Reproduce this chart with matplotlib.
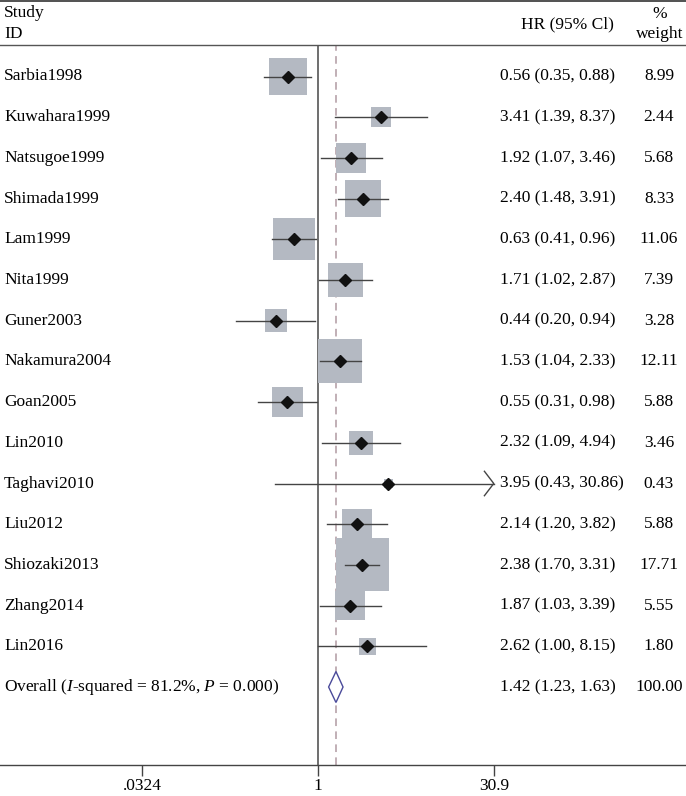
import numpy as np
import matplotlib.pyplot as plt
from matplotlib.patches import Rectangle, Polygon

plt.rcParams['font.family'] = ['Liberation Serif', 'DejaVu Serif']
plt.rcParams['mathtext.fontset'] = 'custom'
plt.rcParams['mathtext.rm'] = 'Liberation Serif'
plt.rcParams['mathtext.it'] = 'Liberation Serif:italic'

# Study data
studies = ["Sarbia1998", "Kuwahara1999", "Natsugoe1999", "Shimada1999", "Lam1999",
           "Nita1999", "Guner2003", "Nakamura2004", "Goan2005", "Lin2010",
           "Taghavi2010", "Liu2012", "Shiozaki2013", "Zhang2014", "Lin2016"]
hr = [0.56, 3.41, 1.92, 2.40, 0.63, 1.71, 0.44, 1.53, 0.55, 2.32, 3.95, 2.14, 2.38, 1.87, 2.62]
lower = [0.35, 1.39, 1.07, 1.48, 0.41, 1.02, 0.20, 1.04, 0.31, 1.09, 0.43, 1.20, 1.70, 1.03, 1.00]
upper = [0.88, 8.37, 3.46, 3.91, 0.96, 2.87, 0.94, 2.33, 0.98, 4.94, 30.86, 3.82, 3.31, 3.39, 8.15]
weight = [8.99, 2.44, 5.68, 8.33, 11.06, 7.39, 3.28, 12.11, 5.88, 3.46, 0.43, 5.88, 17.71, 5.55, 1.80]

overall_hr = 1.42
overall_lo = 1.23
overall_hi = 1.63
overall_label = "Overall ($\\it{I}$-squared = 81.2%, $\\it{P}$ = 0.000)"

xticks = [0.0324, 1, 30.9]
xtick_labels = [".0324", "1", "30.9"]

W, H = 686, 796
fig = plt.figure(figsize=(W / 100, H / 100), dpi=100)

# pixel helpers
row_px0, row_step = 76.5, 40.7
px_per_dec = 118.0
x1_px = 318.0
top_px, bot_px = 45.0, 765.0

ax = fig.add_axes([0, (H - bot_px) / H, 1, (bot_px - top_px) / H])
ax.set_xscale('log')
ax.set_xlim(10 ** (-x1_px / px_per_dec), 10 ** ((W - x1_px) / px_per_dec))
ax.set_ylim((bot_px - row_px0) / row_step, (top_px - row_px0) / row_step)

fs = 12.5

for s in ['left', 'right']:
    ax.spines[s].set_visible(False)
ax.spines['top'].set_color('#555555')
ax.spines['bottom'].set_color('#444444')
ax.spines['top'].set_linewidth(1.0)
ax.spines['bottom'].set_linewidth(1.0)
ax.set_yticks([])
ax.set_xticks(xticks)
ax.set_xticklabels(xtick_labels, fontsize=fs)
ax.xaxis.set_minor_locator(plt.NullLocator())
ax.tick_params(axis='x', direction='out', length=8, width=1, color='#444444', pad=1)

ymin, ymax = ax.get_ylim()
ax.plot([1, 1], [ymin, ymax], color='#555555', lw=1.2, zorder=1)
ax.plot([overall_hr, overall_hr], [ymin, ymax], color='#b09aa2', lw=1.1,
        ls=(0, (5, 3.5)), zorder=1)

xmax_ci = xticks[-1]
box_k = 12.6  # px per sqrt(weight)
for i in range(len(studies)):
    side = box_k * np.sqrt(weight[i])
    half_dec = side / 2 / px_per_dec
    half_row = side / 2 / row_step
    ax.add_patch(Rectangle((hr[i] / 10 ** half_dec, i - half_row),
                           hr[i] * 10 ** half_dec - hr[i] / 10 ** half_dec,
                           2 * half_row, facecolor='#b4b9c2', edgecolor='none', zorder=2))
    hi = min(upper[i], xmax_ci)
    ax.plot([lower[i], hi], [i, i], color='#444444', lw=1.0, zorder=3)
    if upper[i] > 30:
        ax.plot([hi / 1.2, hi, hi / 1.2], [i - 0.3, i, i + 0.3], color='#444444', lw=1.0, zorder=3)
    ax.plot(hr[i], i, marker='D', color='#111111', ms=6.5, zorder=4)

yo = len(studies)
ax.add_patch(Polygon([[overall_lo, yo], [overall_hr, yo - 0.38], [overall_hi, yo],
                      [overall_hr, yo + 0.38]], closed=True, facecolor='white',
                     edgecolor='#4a4a9a', lw=1.0, zorder=3))

# text columns
tr = ax.get_yaxis_transform()
for i in range(len(studies)):
    ax.text(4 / W, i, studies[i], transform=tr, fontsize=fs, va='center', ha='left')
    ax.text(500 / W, i, "%.2f (%.2f, %.2f)" % (hr[i], lower[i], upper[i]),
            transform=tr, fontsize=fs, va='center', ha='left')
    ax.text(659 / W, i, "%.2f" % weight[i], transform=tr, fontsize=fs, va='center', ha='center')
ax.text(4 / W, yo, overall_label, transform=tr, fontsize=fs, va='center', ha='left')
ax.text(500 / W, yo, "%.2f (%.2f, %.2f)" % (overall_hr, overall_lo, overall_hi),
        transform=tr, fontsize=fs, va='center', ha='left')
ax.text(659 / W, yo, "100.00", transform=tr, fontsize=fs, va='center', ha='center')

# header
fig.add_artist(plt.Line2D([0, 1], [1 - 1.0 / H, 1 - 1.0 / H], color='#333333', lw=1.2))
fig.text(4 / W, 1 - 13 / H, "Study", fontsize=fs, va='center', ha='left')
fig.text(4 / W, 1 - 34 / H, "ID", fontsize=fs, va='center', ha='left')
fig.text(614 / W, 1 - 24 / H, "HR (95% Cl)", fontsize=fs, va='center', ha='right')
fig.text(660 / W, 1 - 14 / H, "%", fontsize=fs, va='center', ha='center')
fig.text(660 / W, 1 - 34 / H, "weight", fontsize=fs, va='center', ha='center')

fig.savefig("out.png", dpi=100)
